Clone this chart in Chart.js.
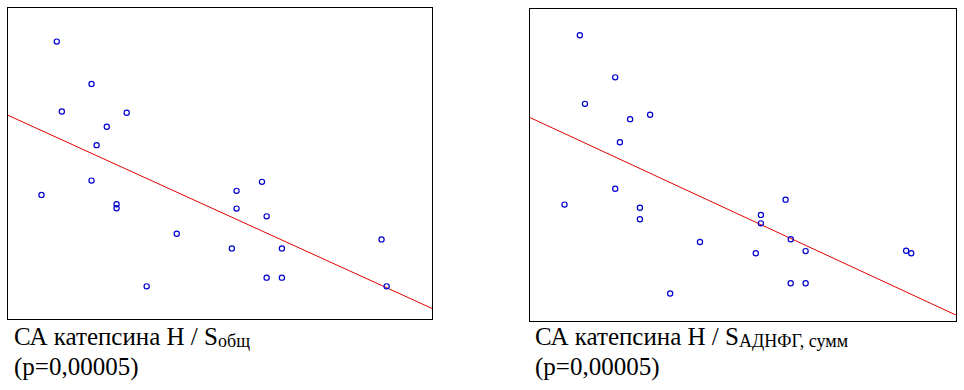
<!DOCTYPE html>
<html>
<head>
<meta charset="utf-8">
<script src="https://cdn.jsdelivr.net/npm/chart.js@4.4.1/dist/chart.umd.min.js"></script>
<style>
    body { margin: 0; background: #fff; width: 964px; height: 390px; position: relative; overflow: hidden; }
    .box { position: absolute; border: 1px solid #000; }
    .box canvas { display: block; }
    .caption { position: absolute; font-family: "Times New Roman", "Liberation Serif", Times, serif; font-size: 25px; line-height: 30px; color: #000; white-space: nowrap; }
    .caption sub { font-size: 18px; vertical-align: -2px; line-height: 0; }
</style>
</head>
<body>
<div class="box" style="left:7px; top:7px;"><canvas id="leftChart" width="424" height="311"></canvas></div>
<div class="box" style="left:529px; top:8px;"><canvas id="rightChart" width="426" height="312"></canvas></div>
<div class="caption" style="left:14px; top:322px;">СА катепсина Н / S<sub>общ</sub><br>(p=0,00005)</div>
<div class="caption" style="left:535px; top:322px;">СА катепсина Н / S<sub>АДНФГ, сумм</sub><br>(p=0,00005)</div>

<script>
// левый график: СА катепсина Н / S общ
const leftX = [11.5, 19.7, 12.7, 28.0, 23.3, 20.9, 19.7, 7.9, 25.6, 25.6, 39.8,
    32.7, 53.9, 59.9, 53.9, 61.0, 52.8, 64.6, 61.0, 64.6, 88.1, 89.3];
const leftY = [89.2, 75.6, 66.7, 66.3, 61.8, 55.9, 44.5, 39.9, 36.9, 35.6, 27.4,
    10.5, 41.2, 44.1, 35.5, 33.0, 22.7, 22.7, 13.3, 13.3, 25.6, 10.5];
const leftLine = [65.5, 3.4];   // линия регрессии при x = 0 и x = 100

// правый график: СА катепсина Н / S АДНФГ, сумм
const rightX = [11.7, 20.0, 12.9, 23.5, 28.2, 21.1, 20.0, 8.1, 25.8, 25.8, 39.9,
    32.9, 54.2, 60.0, 54.2, 61.2, 53.0, 64.7, 61.2, 64.7, 88.3, 89.5];
const rightY = [91.6, 78.1, 69.6, 64.7, 66.1, 57.3, 42.4, 37.3, 36.3, 32.6, 25.3,
    8.8, 34.0, 38.9, 31.3, 26.2, 21.7, 22.4, 12.1, 12.1, 22.5, 21.7];
const rightLine = [65.2, 1.9];

const xRange = [0, 100];

function renderScatter(canvasId, xs, ys, line) {
    const points = xs.map((x, i) => ({ x: x, y: ys[i] }));
    const ctx = document.getElementById(canvasId).getContext('2d');
    new Chart(ctx, {
        type: 'scatter',
        data: {
            datasets: [{
                data: points,
                pointStyle: 'circle',
                pointRadius: 2.6,
                pointBorderWidth: 1.2,
                borderColor: '#0000d0',
                backgroundColor: 'rgba(0,0,0,0)',
                clip: false
            }, {
                type: 'line',
                data: [{ x: xRange[0], y: line[0] }, { x: xRange[1], y: line[1] }],
                borderColor: '#e00000',
                borderWidth: 1,
                pointRadius: 0,
                fill: false
            }]
        },
        options: {
            responsive: false,
            animation: false,
            layout: { padding: 0, autoPadding: false },
            scales: {
                x: { type: 'linear', min: xRange[0], max: xRange[1], display: false },
                y: { min: 0, max: 100, display: false }
            },
            plugins: {
                legend: { display: false },
                tooltip: { enabled: false }
            }
        }
    });
}

document.addEventListener('DOMContentLoaded', function () {
    renderScatter('leftChart', leftX, leftY, leftLine);
    renderScatter('rightChart', rightX, rightY, rightLine);
});
</script>
</body>
</html>
